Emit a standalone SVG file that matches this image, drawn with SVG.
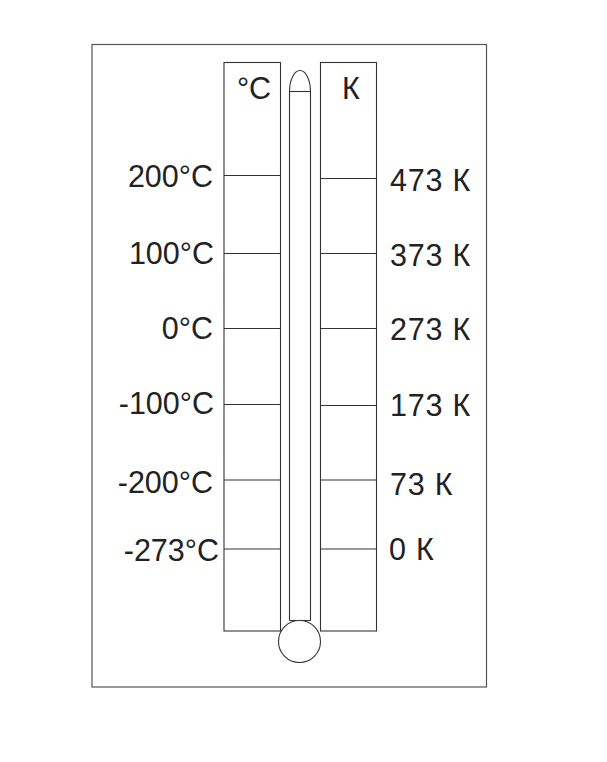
<svg xmlns="http://www.w3.org/2000/svg" width="607" height="762" viewBox="0 0 607 762">
<style>
.ln{fill:none;stroke:#333;stroke-width:1.1}
.fr{fill:none;stroke:#555;stroke-width:1.2}
.t{font-family:"Liberation Sans",Arial,sans-serif;font-size:30.5px;fill:#222}
.l{text-anchor:end}
.k{letter-spacing:0.8px}
</style>
<rect width="607" height="762" fill="#fff"/>
<g id="frame"><rect class="fr" x="92" y="44.5" width="394.5" height="642.5"/></g>
<g id="celsius-scale">
<rect class="ln" x="224" y="62.5" width="56.5" height="568.5"/>
<text class="t" x="254" y="99" text-anchor="middle">°C</text>
</g>
<g id="kelvin-scale">
<rect class="ln" x="320.5" y="62.5" width="56" height="568.5"/>
<text class="t" x="351" y="99" text-anchor="middle">К</text>
</g>
<g id="connectors">
<line class="ln" x1="224" y1="175.5" x2="280.5" y2="175.5"/>
<line class="ln" x1="224" y1="253.5" x2="280.5" y2="253.5"/>
<line class="ln" x1="224" y1="328.5" x2="280.5" y2="328.5"/>
<line class="ln" x1="224" y1="404.5" x2="280.5" y2="404.5"/>
<line class="ln" x1="224" y1="480" x2="280.5" y2="480"/>
<line class="ln" x1="224" y1="549" x2="280.5" y2="549"/>
<line class="ln" x1="320.5" y1="178.5" x2="376.5" y2="178.5"/>
<line class="ln" x1="320.5" y1="253.5" x2="376.5" y2="253.5"/>
<line class="ln" x1="320.5" y1="328.5" x2="376.5" y2="328.5"/>
<line class="ln" x1="320.5" y1="405.5" x2="376.5" y2="405.5"/>
<line class="ln" x1="320.5" y1="480" x2="376.5" y2="480"/>
<line class="ln" x1="320.5" y1="549" x2="376.5" y2="549"/>
</g>
<g id="thermometer">
<path class="ln" d="M289.5 620.5 V91.5 A10.5 21 0 0 1 310.5 91.5 V620.5"/>
<line class="ln" x1="289.5" y1="91.5" x2="310.5" y2="91.5"/>
<line class="ln" x1="289.5" y1="620.5" x2="310.5" y2="620.5"/>
<circle cx="299.5" cy="641.5" r="21" fill="#fff" stroke="#333" stroke-width="1.1"/>
</g>
<g id="celsius-labels">
<text class="t l" x="213" y="187">200°C</text>
<text class="t l" x="214" y="264">100°C</text>
<text class="t l" x="213" y="339">0°C</text>
<text class="t l" x="214" y="414">-100°C</text>
<text class="t l" x="213" y="493">-200°C</text>
<text class="t l" x="219" y="561">-273°C</text>
</g>
<g id="kelvin-labels">
<text class="t k" x="390" y="191">473 К</text>
<text class="t k" x="390" y="266">373 К</text>
<text class="t k" x="390" y="340">273 К</text>
<text class="t k" x="390" y="416">173 К</text>
<text class="t k" x="390" y="495">73 К</text>
<text class="t k" x="389" y="560">0 К</text>
</g>
</svg>
